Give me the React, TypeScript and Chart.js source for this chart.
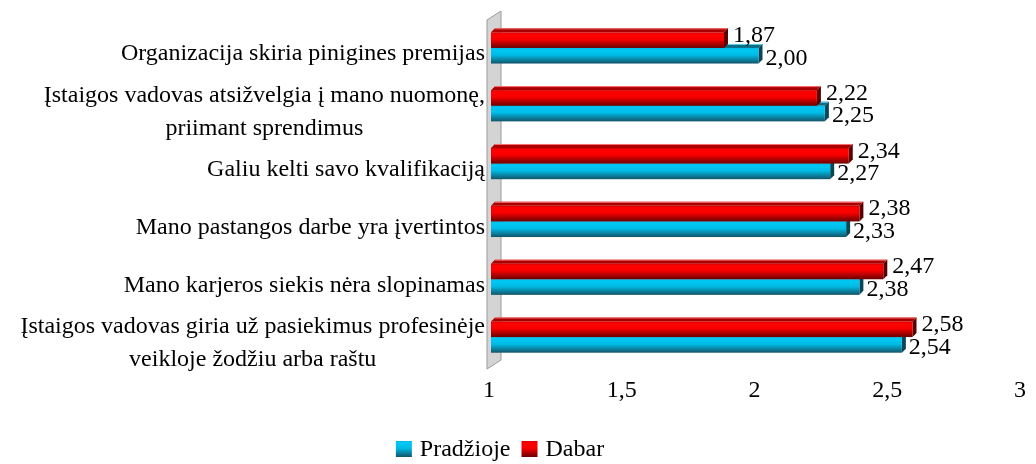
import React, { useEffect, useRef } from 'react';
import { Chart, registerables } from 'chart.js';

Chart.register(...registerables);

const categories: (string | string[])[] = [
  'Organizacija skiria pinigines premijas',
  ['Įstaigos vadovas atsižvelgia į mano nuomonę,', 'priimant sprendimus'],
  'Galiu kelti savo kvalifikaciją',
  'Mano pastangos darbe yra įvertintos',
  'Mano karjeros siekis nėra slopinamas',
  ['Įstaigos vadovas giria už pasiekimus profesinėje', 'veikloje žodžiu arba raštu'],
];
const seriesNames = ['Pradžioje', 'Dabar'];
const pradziojeValues = [2.0, 2.25, 2.27, 2.33, 2.38, 2.54];
const dabarValues = [1.87, 2.22, 2.34, 2.38, 2.47, 2.58];
const xTickValues = [1, 1.5, 2, 2.5, 3];

const FONT = "'Liberation Serif', 'Times New Roman', serif";
const FONT_SIZE = 24;

const fmt = (v: number, digits?: number) =>
  (digits === undefined ? String(v) : v.toFixed(digits)).replace('.', ',');

const palettes: Record<string, any> = {
  red: {
    front: [
      [0, '#d00000'],
      [0.12, '#ff0000'],
      [0.45, '#f80000'],
      [1, '#6a0000'],
    ],
    top: '#a80000',
    topEdge: '#ff7070',
    side: '#5a0000',
  },
  cyan: {
    front: [
      [0, '#00b8e6'],
      [0.12, '#00c8f4'],
      [0.45, '#00bce6'],
      [1, '#125468'],
    ],
    top: '#0b6c86',
    topEdge: '#5fd8f0',
    side: '#0a4656',
  },
};

const wallPlugin = {
  id: 'wall3d',
  beforeDatasetsDraw(chart: any) {
    const { ctx, chartArea } = chart;
    const x0 = chartArea.left - 2;
    const top = chartArea.top + 1;
    const bottom = chartArea.bottom + 3;
    const dx = 14;
    const dy = -9;
    ctx.save();
    ctx.beginPath();
    ctx.moveTo(x0, bottom);
    ctx.lineTo(x0, top);
    ctx.lineTo(x0 + dx, top + dy);
    ctx.lineTo(x0 + dx, bottom + dy);
    ctx.closePath();
    ctx.fillStyle = '#d4d4d4';
    ctx.fill();
    ctx.strokeStyle = '#9a9a9a';
    ctx.lineWidth = 1;
    ctx.stroke();
    ctx.restore();
  },
};

const bars3dPlugin = {
  id: 'bars3d',
  afterDatasetsDraw(chart: any) {
    const { ctx } = chart;
    const d = 4;
    const order = [1, 0];
    ctx.save();
    order.forEach((di) => {
      const meta = chart.getDatasetMeta(di);
      const pal = palettes[chart.data.datasets[di].paletteKey];
      meta.data.forEach((el: any) => {
        const { x, y, base, height } = el.getProps(['x', 'y', 'base', 'height'], true);
        const left = base + 2;
        const right = x + 4;
        const top = y - height / 2;
        const bottom = y + height / 2;
        // top face
        ctx.beginPath();
        ctx.moveTo(left, top);
        ctx.lineTo(left + d, top - d);
        ctx.lineTo(right + d, top - d);
        ctx.lineTo(right, top);
        ctx.closePath();
        ctx.fillStyle = pal.top;
        ctx.fill();
        ctx.beginPath();
        ctx.moveTo(left + d, top - d + 0.5);
        ctx.lineTo(right + d, top - d + 0.5);
        ctx.strokeStyle = pal.topEdge;
        ctx.lineWidth = 1;
        ctx.stroke();
        // side face
        ctx.beginPath();
        ctx.moveTo(right, top);
        ctx.lineTo(right + d, top - d);
        ctx.lineTo(right + d, bottom - d);
        ctx.lineTo(right, bottom);
        ctx.closePath();
        ctx.fillStyle = pal.side;
        ctx.fill();
        // front face
        const gr = ctx.createLinearGradient(0, top, 0, bottom);
        pal.front.forEach((s: any) => gr.addColorStop(s[0], s[1]));
        ctx.fillStyle = gr;
        ctx.fillRect(left, top, right - left, bottom - top);
      });
    });
    // value labels
    ctx.font = `${FONT_SIZE}px ${FONT}`;
    ctx.fillStyle = '#000';
    ctx.textAlign = 'left';
    ctx.textBaseline = 'middle';
    chart.data.datasets.forEach((ds: any, di: number) => {
      const meta = chart.getDatasetMeta(di);
      meta.data.forEach((el: any, i: number) => {
        const { x, y } = el.getProps(['x', 'y'], true);
        const isRed = ds.paletteKey === 'red';
        ctx.fillText(fmt(ds.data[i], 2), x + (isRed ? 13 : 11), y + (isRed ? -4.5 : 2.5));
      });
    });
    ctx.restore();
  },
};

const yLabelsPlugin = {
  id: 'yLabels',
  afterDraw(chart: any) {
    const { ctx, chartArea } = chart;
    const yScale = chart.scales.y;
    const right = chartArea.left - 4;
    const lineH = 33;
    ctx.save();
    ctx.font = `${FONT_SIZE}px ${FONT}`;
    ctx.fillStyle = '#000';
    ctx.textAlign = 'center';
    ctx.textBaseline = 'middle';
    categories.forEach((lab, i) => {
      const lines = Array.isArray(lab) ? lab : [lab];
      const w = Math.max(...lines.map((l) => ctx.measureText(l).width));
      const cx = right - w / 2;
      const cy = yScale.getPixelForValue(i) + 6;
      lines.forEach((l, k) => {
        ctx.fillText(l, cx, cy + (k - (lines.length - 1) / 2) * lineH);
      });
    });
    ctx.restore();
  },
};

const legendPlugin = {
  id: 'legend3d',
  afterDraw(chart: any) {
    const { ctx } = chart;
    const box = 16;
    const centerX = 500;
    const textY = 449.5;
    ctx.save();
    ctx.font = `${FONT_SIZE}px ${FONT}`;
    ctx.textBaseline = 'middle';
    ctx.textAlign = 'left';
    // legend order: Pradžioje, Dabar
    const items = [1, 0].map((di) => {
      const ds = chart.data.datasets[di];
      return { text: ds.label, pal: palettes[ds.paletteKey], w: ctx.measureText(ds.label).width };
    });
    const total = items.reduce((s, it) => s + box + 8 + it.w, 0) + 11 * (items.length - 1);
    let x = centerX - total / 2;
    items.forEach((it) => {
      const top = textY - box / 2 - 0.5;
      const gr = ctx.createLinearGradient(0, top, 0, top + box);
      it.pal.front.forEach((s: any) => gr.addColorStop(s[0], s[1]));
      ctx.fillStyle = gr;
      ctx.fillRect(x, top, box, box);
      ctx.fillStyle = '#000';
      ctx.fillText(it.text, x + box + 8, textY);
      x += box + 8 + it.w + 11;
    });
    ctx.restore();
  },
};

export default function App() {
  const ref = useRef<HTMLCanvasElement | null>(null);
  useEffect(() => {
    document.body.style.margin = '0';
    const canvas = ref.current!;
    const chart = new Chart(canvas, {
      type: 'bar',
      data: {
        labels: categories.map((c) => (Array.isArray(c) ? c.join(' ') : c)),
        datasets: [
          {
            label: seriesNames[1],
            data: dabarValues,
            backgroundColor: 'rgba(0,0,0,0)',
            borderWidth: 0,
            base: 1,
            paletteKey: 'red',
          } as any,
          {
            label: seriesNames[0],
            data: pradziojeValues,
            backgroundColor: 'rgba(0,0,0,0)',
            borderWidth: 0,
            base: 1,
            paletteKey: 'cyan',
          } as any,
        ],
      },
      options: {
        indexAxis: 'y',
        animation: false,
        responsive: false,
        events: [],
        datasets: {
          bar: { categoryPercentage: 0.54, barPercentage: 1 },
        },
        layout: { padding: { left: 0, right: 10, top: 19, bottom: 40 } },
        scales: {
          y: {
            type: 'category',
            grid: { display: false, drawTicks: false },
            border: { display: false },
            ticks: { display: false },
            afterFit: (s: any) => {
              s.width = 489;
            },
          },
          x: {
            type: 'linear',
            min: 1,
            max: 3,
            grid: { display: false, drawTicks: false },
            border: { display: false },
            afterBuildTicks: (s: any) => {
              s.ticks = xTickValues.map((v) => ({ value: v }));
            },
            ticks: {
              padding: 10,
              color: '#000',
              font: { family: FONT, size: FONT_SIZE },
              maxRotation: 0,
              callback: (v: any) => fmt(Number(v)),
            },
            afterFit: (s: any) => {
              s.height = 58;
            },
          },
        },
        plugins: {
          tooltip: { enabled: false },
          legend: { display: false },
        },
      } as any,
      plugins: [wallPlugin, bars3dPlugin, yLabelsPlugin, legendPlugin],
    });
    return () => chart.destroy();
  }, []);
  return (
    <div style={{ width: 1036, height: 464 }}>
      <canvas ref={ref} width={1036} height={464} style={{ display: 'block' }} />
    </div>
  );
}
